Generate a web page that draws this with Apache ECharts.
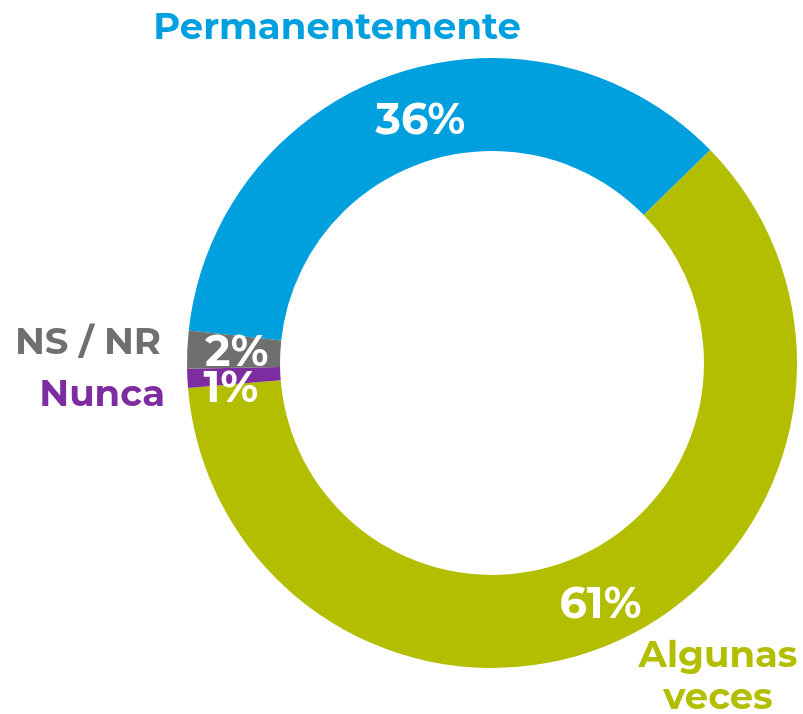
<!DOCTYPE html>
<html>
<head>
<meta charset="utf-8">
<script src="https://cdn.jsdelivr.net/npm/echarts@6/dist/echarts.min.js"></script>
<style>
  html, body { margin: 0; padding: 0; background: #fff; }
  #chart { width: 803px; height: 714px; }
</style>
</head>
<body>
<div id="chart"></div>
<script>
const categories = ["Permanentemente", "Algunas veces", "Nunca", "NS / NR"]
const values = [36, 61, 1, 2]
const colors = ["#00A0DF", "#B4BE00", "#7D2DA0", "#6F6F6E"]

const FONT = "Montserrat, 'Open Sans', sans-serif"

const chart = echarts.init(document.getElementById("chart"))

// nombres fuera del anillo
const namePos = [
    { x: 337, y: 28, align: "center", text: categories[0] },
    { x: 718, y: 677, align: "center", text: "Algunas\nveces" },
    { x: 165, y: 395, align: "right", text: categories[2] },
    { x: 161, y: 343, align: "right", text: categories[3] }
]
// pequeños ajustes de las etiquetas internas
const labelOffsets = [[14, 5], [0, 4], [0, 13], [6, 2]]

chart.setOption({
    animation: false,
    series: [{
        type: "pie",
        center: [492, 363],
        radius: [212, 305],
        startAngle: 173.9,
        clockwise: true,
        avoidLabelOverlap: false,
        label: {
            show: true,
            position: "inside",
            formatter: p => p.value + "%",
            color: "#fff",
            fontSize: 43,
            fontWeight: "bold",
            fontFamily: FONT
        },
        labelLayout: { hideOverlap: false },
        labelLine: { show: false },
        emphasis: { disabled: true },
        data: categories.map((c, i) => ({
            name: c,
            value: values[i],
            itemStyle: { color: colors[i] },
            label: { offset: labelOffsets[i] }
        }))
    }],
    graphic: namePos.map((n, i) => ({
        type: "text",
        x: n.x,
        y: n.y,
        z: 10,
        style: {
            text: n.text,
            fill: colors[i],
            font: "bold 37px " + FONT,
            align: n.align,
            verticalAlign: "middle",
            lineHeight: 42
        }
    }))
})
</script>
</body>
</html>
